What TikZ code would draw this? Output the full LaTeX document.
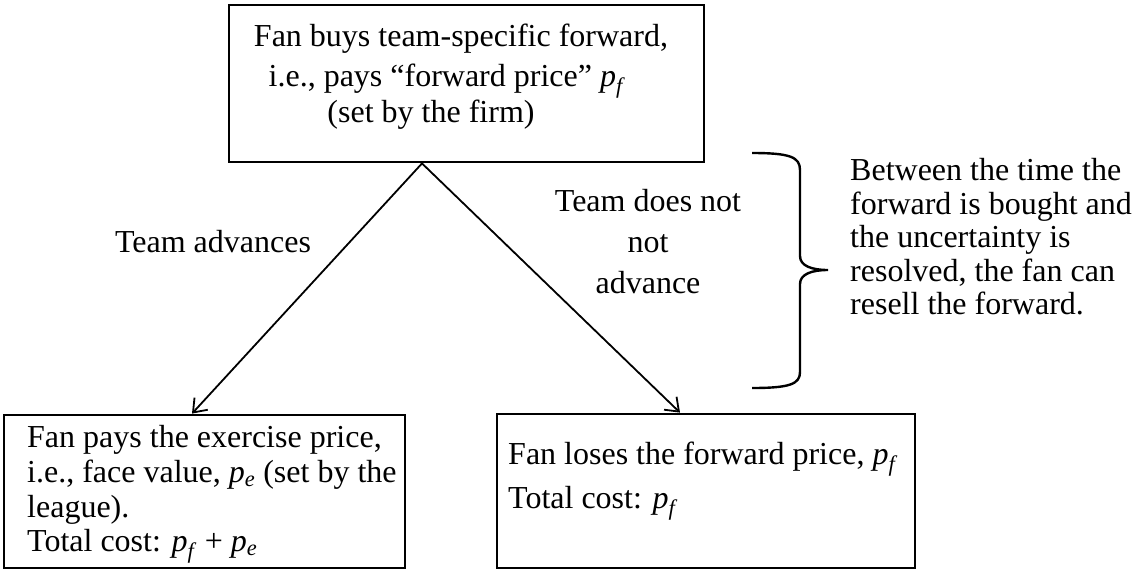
\documentclass[tikz,border=0pt]{standalone}
\usepackage{fontspec}
\setmainfont{Liberation Serif}
\usetikzlibrary{arrows.meta}
\newcommand{\pv}[1]{\textit{p}\textsubscript{\textit{#1}}}
\begin{document}
\begin{tikzpicture}[x=1pt,y=-1pt,
  box/.style={draw, line width=2.8pt, inner sep=0pt},
  txt/.style={font=\fontsize{32}{34}\selectfont, inner sep=0pt},
  arr/.style={line width=1.8pt, -{Straight Barb[length=12pt,width=18pt,line width=1.8pt]}},
  brace/.style={line width=2.4pt}]
\useasboundingbox (0,0) rectangle (1134,571);
% boxes
\node[box, minimum width=475pt, minimum height=157pt] (top) at (466.5,83.5) {};
\node[box, minimum width=401pt, minimum height=153pt] (lbox) at (204.5,491.5) {};
\node[box, minimum width=418pt, minimum height=154pt] (rbox) at (706,491) {};
% top box text
\node[txt, anchor=mid] (t1) at (461,44) {Fan buys team-specific forward,};
\node[txt, anchor=mid] (t2) at (447,84) {i.e., pays “forward price” \pv{f}};
\node[txt, anchor=mid] (t3) at (431,120) {(set by the firm)};
% left box text
\node[txt, anchor=mid west] (l1) at (27,445) {Fan pays the exercise price,};
\node[txt, anchor=mid west] (l2) at (27,480) {i.e., face value, \pv{e} (set by the};
\node[txt, anchor=mid west] (l3) at (27,515) {league).};
\node[txt, anchor=mid west] (l4) at (27,549) {Total cost: \pv{f} + \pv{e}};
% right box text
\node[txt, anchor=mid west] (r1) at (508,462) {Fan loses the forward price, \pv{f}};
\node[txt, anchor=mid west] (r2) at (508,506) {Total cost: \pv{f}};
% connectors
\draw[arr] ([xshift=-44.5pt]top.south) -- ([xshift=-12.5pt]lbox.north);
\draw[arr] ([xshift=-44.5pt]top.south) -- ([xshift=-26pt]rbox.north);
% labels
\node[txt, anchor=mid] (la) at (213,250) {Team advances};
\node[txt, anchor=mid, align=center, font=\fontsize{32}{41}\selectfont] (lb) at (648,291) {Team does not\\not\\advance};
% brace
\coordinate (b1) at (752,153);
\coordinate (b2) at (752,388);
\coordinate (tip) at (828,270);
\draw[brace] (b1) .. controls (790,153) and (800,157) .. (800,170)
  -- (800,256) .. controls (800,266) and (812,270) .. (tip)
  .. controls (812,270) and (800,274) .. (800,284)
  -- (800,372) .. controls (800,384) and (790,388) .. (b2);
% right text
\node[txt, anchor=mid west] (n1) at (850,178) {Between the time the};
\node[txt, anchor=mid west] (n2) at (850,212) {forward is bought and};
\node[txt, anchor=mid west] (n3) at (850,245) {the uncertainty is};
\node[txt, anchor=mid west] (n4) at (850,279) {resolved, the fan can};
\node[txt, anchor=mid west] (n5) at (850,312) {resell the forward.};
\end{tikzpicture}
\end{document}
